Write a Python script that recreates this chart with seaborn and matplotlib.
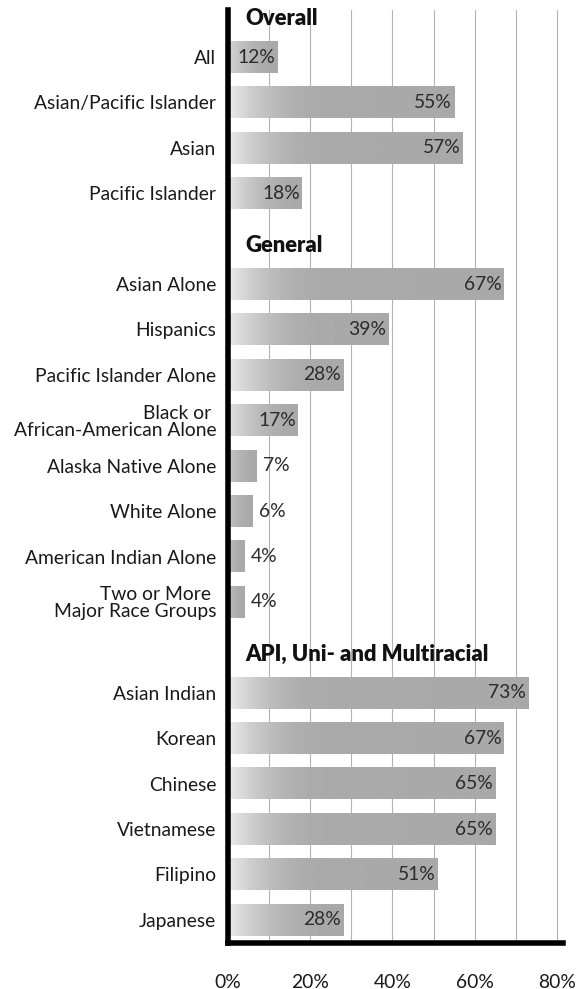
import numpy as np
import pandas as pd
import matplotlib
matplotlib.use("Agg")
import matplotlib.pyplot as plt
import matplotlib.transforms as mtransforms
import seaborn as sns

# Section headings and the groups of bars under each
sections = ["Overall", "General", "API, Uni- and Multiracial"]

overall_labels = ["All", "Asian/Pacific Islander", "Asian", "Pacific Islander"]
overall_values = [12, 55, 57, 18]

general_labels = [
    "Asian Alone",
    "Hispanics",
    "Pacific Islander Alone",
    "Black or \nAfrican-American Alone",
    "Alaska Native Alone",
    "White Alone",
    "American Indian Alone",
    "Two or More \nMajor Race Groups",
]
general_values = [67, 39, 28, 17, 7, 6, 4, 4]

api_labels = ["Asian Indian", "Korean", "Chinese", "Vietnamese", "Filipino", "Japanese"]
api_values = [73, 67, 65, 65, 51, 28]

x_ticks = [0, 20, 40, 60, 80]
x_tick_labels = ["0%", "20%", "40%", "60%", "80%"]
x_grid = [10, 30, 50, 70]

df = pd.DataFrame({
    "label": overall_labels + general_labels + api_labels,
    "value": overall_values + general_values + api_values,
})

order = ([sections[0]] + overall_labels + [sections[1]] + general_labels
         + [sections[2]] + api_labels)

sns.set_theme(style="white")
plt.rcParams["font.family"] = ["Lato", "DejaVu Sans"]

TXT = 13.9

fig = plt.figure(figsize=(5.79, 9.89), dpi=100)
ax = fig.add_axes([228 / 579, 46 / 989, 335 / 579, 933 / 989])

sns.barplot(data=df, x="value", y="label", order=order, orient="h",
            width=0.7, color="#aaaaaa", saturation=1, errorbar=None, ax=ax)

xlim = (0, 81.5)
ylim = (20.51, -0.035)

# Replace flat fills with a horizontal light-to-grey ramp
dark = 0.66
light = 0.91
for p in list(ax.patches):
    x0, y0 = p.get_x(), p.get_y()
    w, h = p.get_width(), p.get_height()
    if w <= 0:
        continue
    start = dark + (light - dark) * min(1.0, (w + 4) / 24)
    ramp = min(w * 1.05, 24.0)
    xs = np.linspace(0, w, 400)
    s = np.clip(xs / ramp, 0, 1)
    t = (1 - s) ** 2.2
    gray = dark + (start - dark) * t + 0.012 * (1 - xs / max(w, 1))
    img = np.tile(gray[None, :], (2, 1))
    ax.imshow(img, cmap="gray", vmin=0, vmax=1, aspect="auto",
              interpolation="bilinear", extent=[x0, x0 + w, y0 + h, y0],
              zorder=2)
    p.set_facecolor("none")
    p.set_edgecolor("none")

# Value labels: inside the bar when it is long enough, else just past its end
for lab, val in zip(df["label"], df["value"]):
    ypos = order.index(lab)
    if val >= 10:
        ax.text(val - 0.5, ypos, f"{val}%", ha="right", va="center",
                fontsize=TXT, color="#2b2b2b", zorder=4)
    else:
        ax.text(val + 1.5, ypos, f"{val}%", ha="left", va="center",
                fontsize=TXT, color="#2b2b2b", zorder=4)

# Section headings
trans = mtransforms.blended_transform_factory(ax.transAxes, ax.transData)
for sec in sections:
    ax.text(0.052, order.index(sec) + 0.15, sec, transform=trans,
            ha="left", va="center", fontsize=15.8, fontweight="heavy",
            color="#111111", zorder=4)

ax.set_yticks(range(len(order)))
ax.set_yticklabels(["" if lab in sections else lab for lab in order],
                   fontsize=TXT, color="#1a1a1a", linespacing=1.0)
ax.set_xticks(x_ticks)
ax.set_xticklabels(x_tick_labels, fontsize=TXT, color="#1a1a1a")
ax.set_xticks(x_grid, minor=True)
ax.tick_params(axis="y", length=0, pad=8.5)
ax.tick_params(axis="x", which="both", length=0, pad=22)

ax.set_axisbelow(True)
ax.grid(axis="x", which="both", color="#b3b3b3", linewidth=0.8)
ax.grid(axis="y", visible=False)

ax.set_xlim(*xlim)
ax.set_ylim(*ylim)
ax.set_xlabel("")
ax.set_ylabel("")

for side in ("top", "right"):
    ax.spines[side].set_visible(False)
for side in ("left", "bottom"):
    ax.spines[side].set_visible(True)
    ax.spines[side].set_color("black")
    ax.spines[side].set_linewidth(4)
    ax.spines[side].set_capstyle("projecting")
    ax.spines[side].set_zorder(5)

fig.savefig("out.png", dpi=100, facecolor="white")
